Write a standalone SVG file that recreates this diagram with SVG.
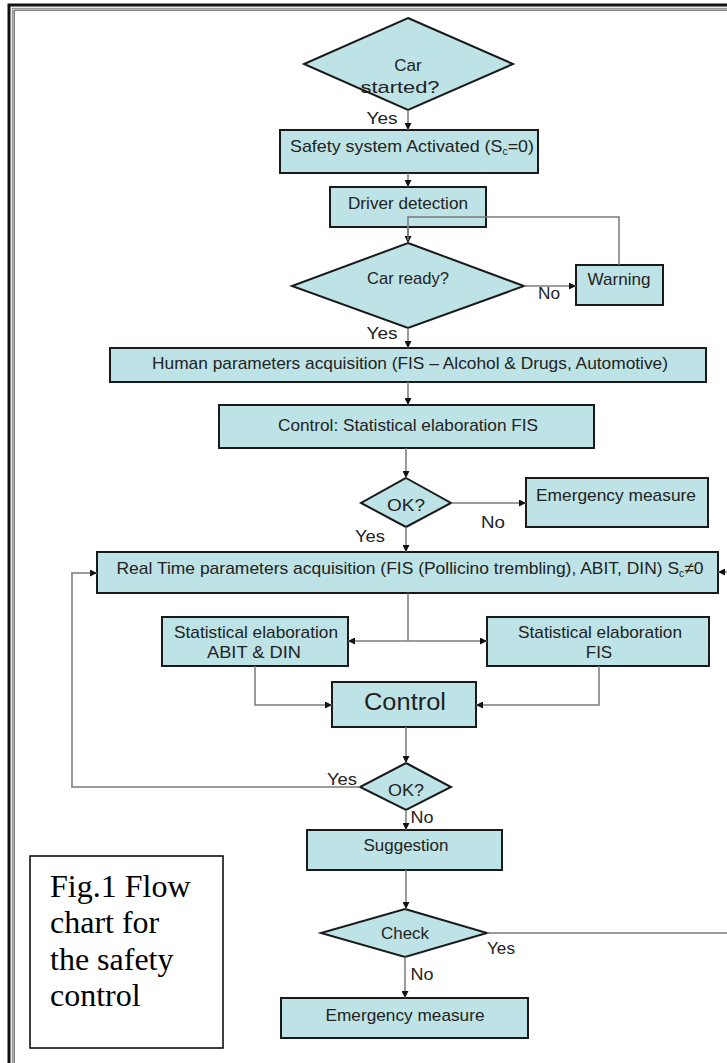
<svg xmlns="http://www.w3.org/2000/svg" width="727" height="1063" viewBox="0 0 727 1063">
<defs>
<marker id="ah" viewBox="0 0 8 8" refX="8" refY="4" markerWidth="7" markerHeight="7" markerUnits="userSpaceOnUse" orient="auto">
<path d="M0,0 L8,4 L0,8 z" fill="#111"/>
</marker>
<style>
.n{fill:#bee3e6;stroke:#1a1a1a;stroke-width:2}
.t{font-family:"Liberation Sans",Arial,sans-serif;font-size:17px;fill:#222;text-anchor:middle}
.l{font-family:"Liberation Sans",Arial,sans-serif;font-size:17px;fill:#222;text-anchor:middle}
.c{fill:none;stroke:#7a7a7a;stroke-width:1.5}
.a{marker-end:url(#ah)}
.fig{font-family:"Liberation Serif","Times New Roman",serif;font-size:32px;fill:#000}
</style>
</defs>
<rect width="727" height="1063" fill="#fff"/>
<g id="frame" fill="none">
<path d="M9,1063 V5 H727" stroke="#111" stroke-width="3"/>
<path d="M12.5,1063 V8.5 H727" stroke="#999" stroke-width="1.5"/>
<path d="M14.2,1063 V10.2 H727" stroke="#444" stroke-width="1"/>
</g>
<g id="n1"><polygon class="n" points="408,18 513,64 408,110 304,64"/>
<text class="t" x="408" y="71">Car</text><text class="t" x="400" y="93" textLength="79" lengthAdjust="spacingAndGlyphs">started?</text></g>
<g id="n2"><rect class="n" x="280" y="130" width="258" height="43"/>
<text class="t" x="412" y="152" textLength="244" lengthAdjust="spacingAndGlyphs">Safety system Activated (S<tspan font-size="10" dy="3">c</tspan><tspan dy="-3">=0)</tspan></text></g>
<g id="n3"><rect class="n" x="330" y="187" width="156" height="40"/>
<text class="t" x="408" y="209" textLength="120" lengthAdjust="spacingAndGlyphs">Driver detection</text></g>
<g id="n4"><polygon class="n" points="408,243 524,286 408,328 292,286"/>
<text class="t" x="408" y="284" textLength="82" lengthAdjust="spacingAndGlyphs">Car ready?</text></g>
<g id="n5"><rect class="n" x="576" y="265" width="87" height="40"/>
<text class="t" x="619" y="285" textLength="63" lengthAdjust="spacingAndGlyphs">Warning</text></g>
<g id="n6"><rect class="n" x="110" y="348" width="596" height="34"/>
<text class="t" x="410" y="369" textLength="516" lengthAdjust="spacingAndGlyphs">Human parameters acquisition (FIS – Alcohol &amp; Drugs, Automotive)</text></g>
<g id="n7"><rect class="n" x="219" y="405" width="375" height="43"/>
<text class="t" x="408" y="431" textLength="260" lengthAdjust="spacingAndGlyphs">Control: Statistical elaboration FIS</text></g>
<g id="n8"><polygon class="n" points="406,478 451,503 406,527 361,503"/>
<text class="t" x="406" y="511" textLength="38" lengthAdjust="spacingAndGlyphs">OK?</text></g>
<g id="n9"><rect class="n" x="526" y="478" width="182" height="49"/>
<text class="t" x="616" y="501" textLength="160" lengthAdjust="spacingAndGlyphs">Emergency measure</text></g>
<g id="n10"><rect class="n" x="97" y="552" width="621" height="41"/>
<text class="t" x="410" y="574" textLength="587" lengthAdjust="spacingAndGlyphs">Real Time parameters acquisition (FIS (Pollicino trembling), ABIT, DIN) S<tspan font-size="10" dy="3">c</tspan><tspan dy="-3">≠0</tspan></text></g>
<g id="n11"><rect class="n" x="162" y="617" width="186" height="49"/>
<text class="t" x="256" y="638" textLength="164" lengthAdjust="spacingAndGlyphs">Statistical elaboration</text>
<text class="t" x="254" y="658" textLength="94" lengthAdjust="spacingAndGlyphs">ABIT &amp; DIN</text></g>
<g id="n12"><rect class="n" x="487" y="617" width="222" height="49"/>
<text class="t" x="600" y="638" textLength="164" lengthAdjust="spacingAndGlyphs">Statistical elaboration</text>
<text class="t" x="599" y="658">FIS</text></g>
<g id="n13"><rect class="n" x="332" y="682" width="144" height="45"/>
<text class="t" x="405" y="710" font-size="23" textLength="82" lengthAdjust="spacingAndGlyphs" style="font-size:23px">Control</text></g>
<g id="n14"><polygon class="n" points="406,763 451,787 406,810 360,787"/>
<text class="t" x="406" y="796" textLength="36" lengthAdjust="spacingAndGlyphs">OK?</text></g>
<g id="n15"><rect class="n" x="307" y="830" width="195" height="40"/>
<text class="t" x="406" y="851" textLength="85" lengthAdjust="spacingAndGlyphs">Suggestion</text></g>
<g id="n16"><polygon class="n" points="405,909 487,933 405,957 321,933"/>
<text class="t" x="405" y="939" textLength="48" lengthAdjust="spacingAndGlyphs">Check</text></g>
<g id="n17"><rect class="n" x="281" y="998" width="247" height="40"/>
<text class="t" x="405" y="1021" textLength="159" lengthAdjust="spacingAndGlyphs">Emergency measure</text></g>
<g id="caption"><rect x="30" y="856" width="193" height="192" fill="#fff" stroke="#000" stroke-width="1.5"/>
<text class="fig" x="50" y="897">Fig.1 Flow</text>
<text class="fig" x="50" y="933">chart for</text>
<text class="fig" x="50" y="970">the safety</text>
<text class="fig" x="50" y="1006">control</text></g>
<g id="connectors">
<path class="c a" d="M408,110 V130"/>
<path class="c a" d="M408,173 V187"/>
<path class="c a" d="M408,227 V243"/>
<path class="c" d="M619,265 V217 H408 V240"/>
<path class="c a" d="M524,286 H576"/>
<path class="c a" d="M408,328 V348"/>
<path class="c a" d="M408,382 V405"/>
<path class="c a" d="M406,448 V478"/>
<path class="c a" d="M451,503 H526"/>
<path class="c a" d="M406,527 V552"/>
<path class="c" d="M408,593 V641"/>
<path class="c a" d="M408,641 H348"/>
<path class="c a" d="M408,641 H487"/>
<path class="c a" d="M255,666 V705 H332"/>
<path class="c a" d="M599,666 V705 H476"/>
<path class="c a" d="M406,727 V763"/>
<path class="c a" d="M360,787 H72 V573 H97"/>
<path class="c a" d="M406,810 V830"/>
<path class="c a" d="M406,870 V909"/>
<path class="c a" d="M487,933 H740 V572 H718"/>
<path class="c a" d="M405,957 V998"/>
</g>
<g id="labels">
<text class="l" x="382" y="124" textLength="31" lengthAdjust="spacingAndGlyphs">Yes</text>
<text class="l" x="549" y="299" textLength="22" lengthAdjust="spacingAndGlyphs">No</text>
<text class="l" x="382" y="339" textLength="31" lengthAdjust="spacingAndGlyphs">Yes</text>
<text class="l" x="493" y="528" textLength="24" lengthAdjust="spacingAndGlyphs">No</text>
<text class="l" x="370" y="542" textLength="30" lengthAdjust="spacingAndGlyphs">Yes</text>
<text class="l" x="342" y="785" textLength="30" lengthAdjust="spacingAndGlyphs">Yes</text>
<text class="l" x="422" y="823" textLength="23" lengthAdjust="spacingAndGlyphs">No</text>
<text class="l" x="501" y="954" textLength="28" lengthAdjust="spacingAndGlyphs">Yes</text>
<text class="l" x="422" y="980" textLength="23" lengthAdjust="spacingAndGlyphs">No</text>
</g>
</svg>
